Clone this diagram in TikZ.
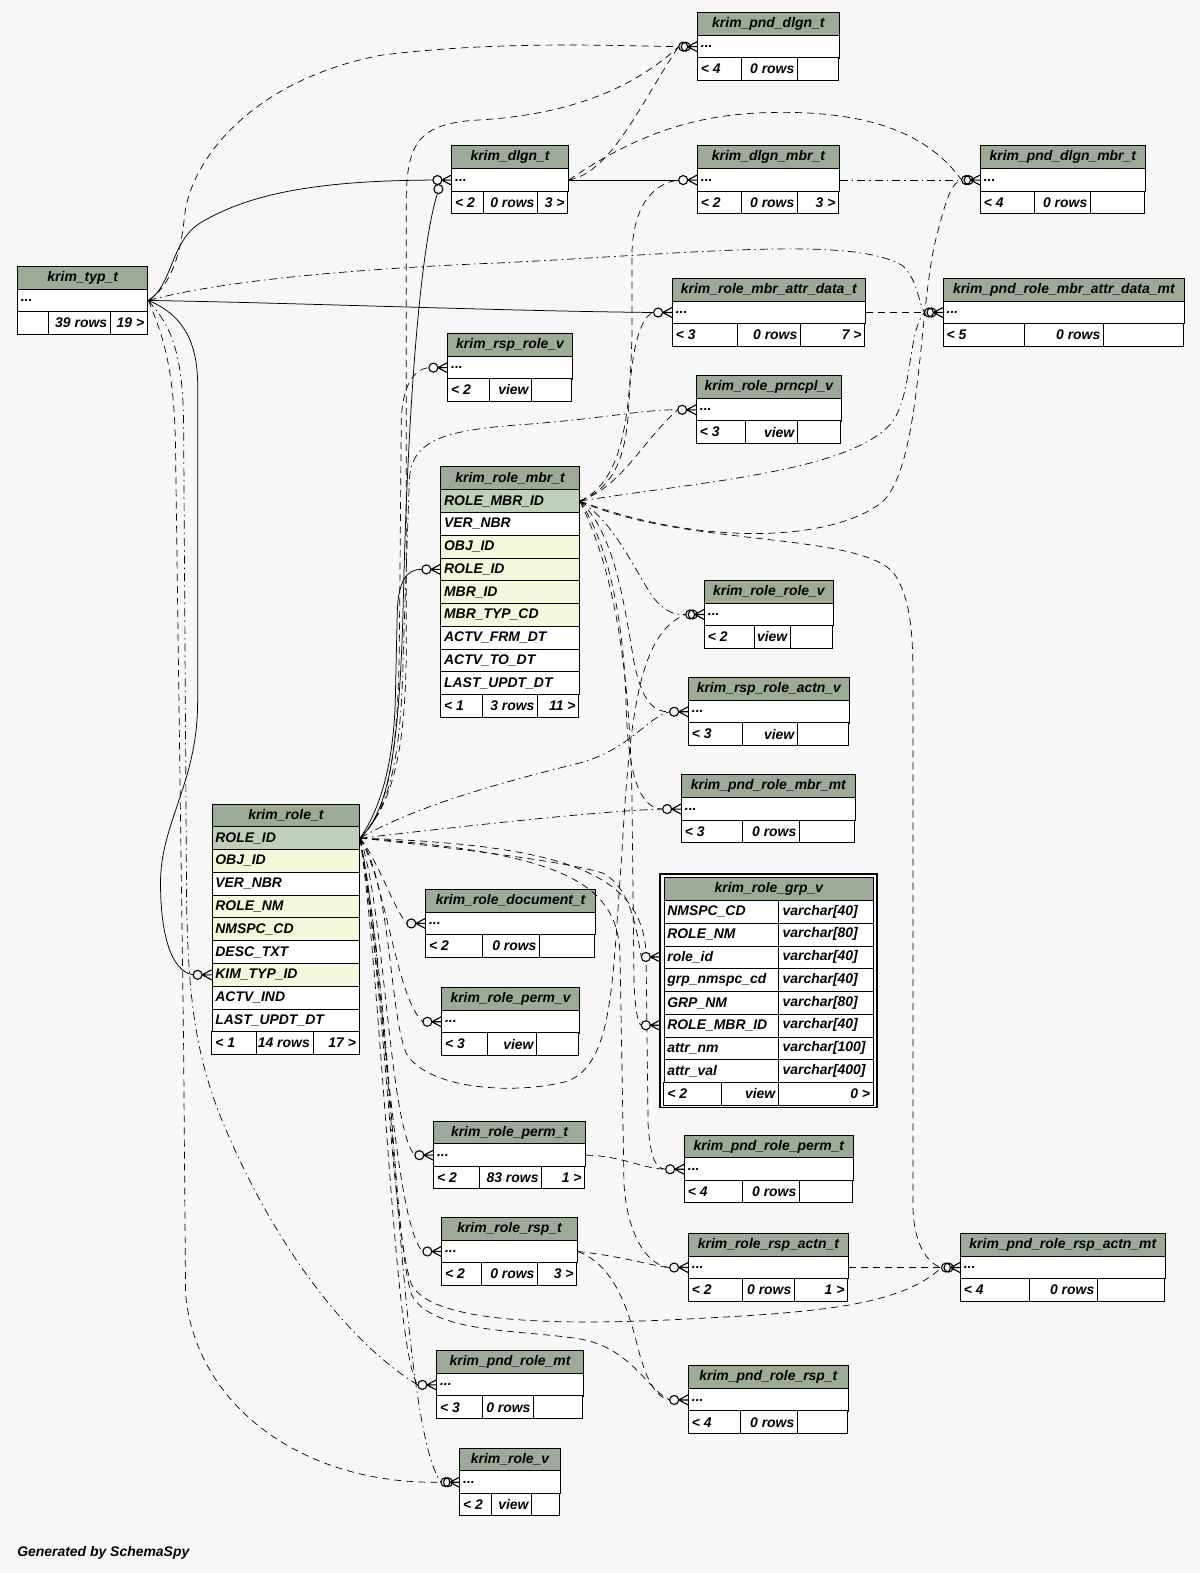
\documentclass[tikz,border=0pt]{standalone}
\usepackage{fontspec}
\setmainfont{Liberation Sans}
\definecolor{bg}{HTML}{F7F7F7}
\definecolor{hdr}{HTML}{9BAB96}
\definecolor{pk}{HTML}{BED1B8}
\definecolor{fkc}{HTML}{F4F7DA}
\newcommand\tfont{\fontsize{13.9}{16}\selectfont\bfseries\itshape}
\newcommand\RH{22.7}
\newcommand\tabhead[5]{%
  \node[hdrbox, minimum width={(#3-#2)*1pt}] (#1-h) at (#2,#4) {#5};
  \node[rowbox, minimum width={(#3-#2)*1pt}] (#1) at (#2,{#4+\RH}) {};
  \node[txt] at ([xshift=3.5pt]#1.west) {...};}
\newcommand\tabfoot[8]{%
  \draw[line width=0.9pt, fill=white] (#1,#5) rectangle (#4,{#5+\RH});
  \draw[line width=0.9pt] (#2,#5) -- (#2,{#5+\RH}) (#3,#5) -- (#3,{#5+\RH});
  \node[txt, anchor=west] at ({#1+3.5},{#5+\RH/2}) {#6};
  \node[txt, anchor=east] at ({#3-3},{#5+\RH/2}) {#7};
  \node[txt, anchor=east] at ({#4-3},{#5+\RH/2}) {#8};}
\newcommand\tabrow[6]{%
  \node[rowbox, fill=#6, minimum width={(#3-#2)*1pt}] (#1) at (#2,#4) {};
  \node[txt] at ([xshift=3.5pt]#1.west) {#5};}
\newcommand\grprow[4]{%
  \node[rowbox, minimum width=209pt] (#1) at (661.5,#2) {};
  \draw[line width=0.9pt] (776,#2) -- (776,{#2+\RH});
  \node[txt] at ([xshift=3.5pt]#1.west) {#3};
  \node[txt] at (780,{#2+\RH/2}) {#4};}
\newcommand\crowmark[1]{%
  \draw[mk] ([xshift=-9.5pt]#1.west) -- ([yshift=5pt]#1.west)
            ([xshift=-9.5pt]#1.west) -- (#1.west)
            ([xshift=-9.5pt]#1.west) -- ([yshift=-5pt]#1.west);
  \draw[mk, fill=bg] ([xshift=-14pt]#1.west) circle[radius=4.5pt];}
\newcommand\crowmarkd[1]{%
  \crowmark{#1}
  \draw[mk] ([xshift=-11.5pt]#1.west) circle[radius=4.5pt];}
\begin{document}
\begin{tikzpicture}[x=1pt,y=-1pt,
  tb/.style={draw=black, line width=0.9pt, inner sep=0pt, minimum height=22.7pt, anchor=north west},
  hdrbox/.style={tb, fill=hdr, font=\tfont},
  rowbox/.style={tb, fill=white},
  txt/.style={inner sep=0pt, font=\tfont, anchor=west},
  rel/.style={line width=0.75pt},
  imp/.style={line width=0.7pt, dash pattern=on 7pt off 5pt},
  impd/.style={line width=0.7pt, dash pattern=on 8pt off 4pt on 1.5pt off 4pt},
  mk/.style={line width=1.1pt}]
\fill[bg] (0,0) rectangle (1196,1568);
\useasboundingbox (0,0) rectangle (1196,1568);

% ---------- simple tables ----------
\tabhead{pnddlgn}{695}{836}{12}{krim\_pnd\_dlgn\_t}
\tabfoot{695}{739}{795}{836}{57.4}{< 4}{0 rows}{}
\tabhead{dlgn}{450}{566}{145}{krim\_dlgn\_t}
\tabfoot{450}{482}{536}{566}{190.4}{< 2}{0 rows}{3 >}
\tabhead{dlgnmbr}{695}{836}{145}{krim\_dlgn\_mbr\_t}
\tabfoot{695}{739}{795}{836}{190.4}{< 2}{0 rows}{3 >}
\tabhead{pnddlgnmbr}{977}{1141}{145}{krim\_pnd\_dlgn\_mbr\_t}
\tabfoot{977}{1031}{1087}{1141}{190.4}{< 4}{0 rows}{}
\tabhead{typ}{17}{147}{265}{krim\_typ\_t}
\tabfoot{17}{48}{110}{147}{310.4}{}{39 rows}{19 >}
\tabhead{rmad}{670}{862}{277}{krim\_role\_mbr\_attr\_data\_t}
\tabfoot{670}{735}{798}{862}{322.4}{< 3}{0 rows}{7 >}
\tabhead{prmad}{940}{1180}{277}{krim\_pnd\_role\_mbr\_attr\_data\_mt}
\tabfoot{940}{1021}{1100}{1180}{322.4}{< 5}{0 rows}{}
\tabhead{rsprolev}{446}{570}{332}{krim\_rsp\_role\_v}
\tabfoot{446}{488}{530}{570}{377.4}{< 2}{view}{}
\tabhead{prncpl}{694}{838}{374}{krim\_role\_prncpl\_v}
\tabfoot{694}{743}{795}{838}{419.4}{< 3}{view}{}
\tabhead{rolerole}{702}{830}{578}{krim\_role\_role\_v}
\tabfoot{702}{752}{788}{830}{623.4}{< 2}{view}{}
\tabhead{rspactnv}{686}{846}{675}{krim\_rsp\_role\_actn\_v}
\tabfoot{686}{740}{795}{846}{720.4}{< 3}{view}{}
\tabhead{pndrmbr}{679}{852}{772}{krim\_pnd\_role\_mbr\_mt}
\tabfoot{679}{740}{797}{852}{817.4}{< 3}{0 rows}{}
\tabhead{doc}{424}{593}{886}{krim\_role\_document\_t}
\tabfoot{424}{481}{538}{593}{931.4}{< 2}{0 rows}{}
\tabhead{permv}{440}{577}{984}{krim\_role\_perm\_v}
\tabfoot{440}{486}{535}{577}{1029.4}{< 3}{view}{}
\tabhead{perm}{432}{583}{1117}{krim\_role\_perm\_t}
\tabfoot{432}{478}{540}{583}{1162.4}{< 2}{83 rows}{1 >}
\tabhead{pndperm}{682}{850}{1131}{krim\_pnd\_role\_perm\_t}
\tabfoot{682}{740}{797}{850}{1176.4}{< 4}{0 rows}{}
\tabhead{rsp}{440}{575}{1213}{krim\_role\_rsp\_t}
\tabfoot{440}{480}{536}{575}{1258.4}{< 2}{0 rows}{3 >}
\tabhead{rspactn}{686}{845}{1229}{krim\_role\_rsp\_actn\_t}
\tabfoot{686}{740}{792}{845}{1274.4}{< 2}{0 rows}{1 >}
\tabhead{pndrspactn}{957}{1161}{1229}{krim\_pnd\_role\_rsp\_actn\_mt}
\tabfoot{957}{1026}{1094}{1161}{1274.4}{< 4}{0 rows}{}
\tabhead{pndrole}{435}{581}{1346}{krim\_pnd\_role\_mt}
\tabfoot{435}{481}{532}{581}{1391.4}{< 3}{0 rows}{}
\tabhead{pndrsp}{686}{845}{1361}{krim\_pnd\_role\_rsp\_t}
\tabfoot{686}{738}{795}{845}{1406.4}{< 4}{0 rows}{}
\tabhead{rolev}{458}{558}{1443}{krim\_role\_v}
\tabfoot{458}{490}{530}{558}{1488.4}{< 2}{view}{}

% ---------- krim_role_mbr_t ----------
\node[hdrbox, minimum width=138pt] (rm-h) at (439,465) {krim\_role\_mbr\_t};
\tabrow{rmpk}{439}{577}{487.7}{ROLE\_MBR\_ID}{pk}
\tabrow{rm2}{439}{577}{510.4}{VER\_NBR}{white}
\tabrow{rm3}{439}{577}{533.1}{OBJ\_ID}{fkc}
\tabrow{rmroleid}{439}{577}{555.8}{ROLE\_ID}{fkc}
\tabrow{rm5}{439}{577}{578.5}{MBR\_ID}{fkc}
\tabrow{rm6}{439}{577}{601.2}{MBR\_TYP\_CD}{fkc}
\tabrow{rm7}{439}{577}{623.9}{ACTV\_FRM\_DT}{white}
\tabrow{rm8}{439}{577}{646.6}{ACTV\_TO\_DT}{white}
\tabrow{rm9}{439}{577}{669.3}{LAST\_UPDT\_DT}{white}
\tabfoot{439}{481}{536}{577}{692}{< 1}{3 rows}{11 >}

% ---------- krim_role_t ----------
\node[hdrbox, minimum width=147pt] (role-h) at (211,801) {krim\_role\_t};
\tabrow{rolepk}{211}{358}{823.7}{ROLE\_ID}{pk}
\tabrow{ro2}{211}{358}{846.4}{OBJ\_ID}{fkc}
\tabrow{ro3}{211}{358}{869.1}{VER\_NBR}{white}
\tabrow{ro4}{211}{358}{891.8}{ROLE\_NM}{fkc}
\tabrow{ro5}{211}{358}{914.5}{NMSPC\_CD}{fkc}
\tabrow{ro6}{211}{358}{937.2}{DESC\_TXT}{white}
\tabrow{rolekim}{211}{358}{959.9}{KIM\_TYP\_ID}{fkc}
\tabrow{ro8}{211}{358}{982.6}{ACTV\_IND}{white}
\tabrow{ro9}{211}{358}{1005.3}{LAST\_UPDT\_DT}{white}
\tabfoot{211}{256}{312}{358}{1028}{< 1}{14 rows}{17 >}

% ---------- krim_role_grp_v ----------
\draw[line width=1.6pt] (658,871) rectangle (874,1104);
\node[hdrbox, minimum width=209pt] (grp-h) at (661.5,874.5) {krim\_role\_grp\_v};
\grprow{g1}{897.2}{NMSPC\_CD}{varchar[40]}
\grprow{g2}{919.9}{ROLE\_NM}{varchar[80]}
\grprow{grp1}{942.6}{role\_id}{varchar[40]}
\grprow{g4}{965.3}{grp\_nmspc\_cd}{varchar[40]}
\grprow{g5}{988}{GRP\_NM}{varchar[80]}
\grprow{grp2}{1010.7}{ROLE\_MBR\_ID}{varchar[40]}
\grprow{g7}{1033.4}{attr\_nm}{varchar[100]}
\grprow{g8}{1056.1}{attr\_val}{varchar[400]}
\tabfoot{661.5}{719}{776}{870.5}{1078.8}{< 2}{view}{0 >}
\node[inner sep=0pt, minimum size=0pt] (grp1o) at (658,953.9) {};
\node[inner sep=0pt, minimum size=0pt] (grp2o) at (658,1022) {};

\node[txt] (gen) at (17,1548) {Generated by SchemaSpy};

% ---------- connector end points ----------
\foreach \n in {pnddlgn,dlgn,dlgnmbr,pnddlgnmbr,rmad,prmad,rsprolev,prncpl,rmroleid,rolerole,rspactnv,pndrmbr,rolekim,doc,permv,perm,pndperm,rsp,rspactn,pndrspactn,pndrole,pndrsp,rolev,grp1o,grp2o}
  \coordinate (\n-c) at ([xshift=-18.5pt]\n.west);
\coordinate (dlgn-c2) at ([xshift=-14pt,yshift=-13.5pt]dlgn.west);

% ---------- connectors ----------
% from krim_typ_t
\draw[rel] (typ.east) .. controls (172,285) and (170,240) .. (200,222) .. controls (250,192) and (320,180) .. (dlgn-c);
\draw[imp] (typ.east) .. controls (170,285) and (180,255) .. (184,215) .. controls (190,160) and (250,80) .. (380,55) .. controls (500,40) and (620,46) .. (pnddlgn-c);
\draw[rel] (typ.east) .. controls (300,302) and (500,310) .. (rmad-c);
\draw[impd] (typ.east) .. controls (220,280) and (350,268) .. (500,262) .. controls (700,252) and (850,235) .. (900,265) .. controls (915,280) and (915,300) .. (prmad-c);
\draw[rel] (typ.east) .. controls (178,312) and (196,335) .. (197,380) -- (197,700) .. controls (197,780) and (160,820) .. (160,880) .. controls (160,930) and (170,968) .. (rolekim-c);
\draw[impd] (typ.east) .. controls (165,320) and (182,340) .. (183,420) -- (186,900) .. controls (188,1000) and (195,1060) .. (230,1137) .. controls (280,1250) and (350,1340) .. (pndrole-c);
\draw[imp] (typ.east) .. controls (160,330) and (174,360) .. (175,450) -- (183,1040) -- (185,1290) .. controls (195,1400) and (300,1480) .. (rolev-c);
% from krim_dlgn_t / krim_dlgn_mbr_t / krim_role_mbr_attr_data_t
\draw[rel] (dlgn.east) -- (dlgnmbr-c);
\draw[imp] (dlgn.east) .. controls (610,172) and (640,100) .. (pnddlgn-c);
\draw[imp] (dlgn.east) .. controls (640,130) and (700,112) .. (780,112) .. controls (880,112) and (930,140) .. (pnddlgnmbr-c);
\draw[impd] (dlgnmbr.east) -- (pnddlgnmbr-c);
\draw[imp] (rmad.east) -- (prmad-c);
% from krim_role_mbr_t
\draw[imp] (rmpk.east) .. controls (700,545) and (830,540) .. (880,500) .. controls (920,460) and (915,300) .. (935,230) .. controls (943,200) and (948,182) .. (pnddlgnmbr-c);
\draw[imp] (rmpk.east) .. controls (620,480) and (628,420) .. (630,330) -- (630,250) .. controls (632,200) and (655,182) .. (dlgnmbr-c);
\draw[imp] (rmpk.east) .. controls (615,485) and (625,450) .. (627,400) .. controls (630,340) and (640,315) .. (rmad-c);
\draw[impd] (rmpk.east) .. controls (700,480) and (850,470) .. (890,420) .. controls (910,390) and (905,330) .. (prmad-c);
\draw[imp] (rmpk.east) .. controls (620,485) and (640,440) .. (prncpl-c);
\draw[impd] (rmpk.east) .. controls (615,520) and (640,585) .. (655,600) .. controls (665,610) and (672,613) .. (rolerole-c);
\draw[imp] (rmpk.east) .. controls (612,530) and (622,600) .. (632,660) .. controls (640,700) and (652,710) .. (rspactnv-c);
\draw[imp] (rmpk.east) .. controls (606,540) and (622,620) .. (624,700) .. controls (626,780) and (640,806) .. (pndrmbr-c);
\draw[imp] (rmpk.east) .. controls (608,560) and (628,650) .. (630,800) -- (632,980) .. controls (633,1005) and (636,1022) .. (grp2o-c);
\draw[imp] (rmpk.east) .. controls (680,545) and (850,530) .. (890,570) .. controls (912,600) and (910,650) .. (910,700) -- (910,1200) .. controls (910,1240) and (925,1260) .. (pndrspactn-c);
% from krim_role_t
\draw[rel] (rolepk.east) .. controls (385,810) and (398,760) .. (402,600) .. controls (406,420) and (418,250) .. (dlgn-c2);
\draw[imp] (rolepk.east) .. controls (388,805) and (404,760) .. (405,650) -- (405,200) .. controls (405,140) and (420,125) .. (470,120) .. controls (580,115) and (640,80) .. (pnddlgn-c);
\draw[imp] (rolepk.east) .. controls (383,812) and (396,770) .. (398,650) -- (400,420) .. controls (401,385) and (412,368) .. (rsprolev-c);
\draw[impd] (rolepk.east) .. controls (386,808) and (400,765) .. (402,650) -- (408,480) .. controls (409,440) and (440,430) .. (510,424) .. controls (600,418) and (640,408) .. (prncpl-c);
\draw[rel] (rolepk.east) .. controls (380,805) and (392,760) .. (394,700) -- (396,610) .. controls (397,580) and (405,567) .. (rmroleid-c);
\draw[imp] (rolepk.east) .. controls (390,880) and (388,1010) .. (405,1050) .. controls (425,1085) and (510,1092) .. (565,1078) .. controls (612,1060) and (610,980) .. (620,850) .. controls (628,700) and (640,630) .. (rolerole-c);
\draw[impd] (rolepk.east) .. controls (420,800) and (520,775) .. (580,760) .. controls (630,745) and (645,715) .. (rspactnv-c);
\draw[impd] (rolepk.east) .. controls (450,825) and (600,808) .. (pndrmbr-c);
\draw[imp] (rolepk.east) .. controls (450,845) and (560,858) .. (600,870) .. controls (632,885) and (636,940) .. (grp1o-c);
\draw[imp] (rolepk.east) .. controls (560,850) and (615,880) .. (618,950) -- (622,1180) .. controls (625,1230) and (645,1262) .. (rspactn-c);
\draw[imp] (rolepk.east) .. controls (560,842) and (640,870) .. (644,950) -- (646,1120) .. controls (648,1150) and (652,1165) .. (pndperm-c);
\draw[imp] (rolepk.east) .. controls (378,860) and (392,905) .. (doc-c);
\draw[imp] (rolepk.east) .. controls (385,880) and (395,995) .. (permv-c);
\draw[imp] (rolepk.east) .. controls (383,900) and (388,1125) .. (perm-c);
\draw[imp] (rolepk.east) .. controls (380,950) and (392,1220) .. (rsp-c);
\draw[imp] (rolepk.east) .. controls (382,1000) and (393,1350) .. (pndrole-c);
\draw[impd] (rolepk.east) .. controls (392,1000) and (398,1420) .. (rolev-c);
\draw[imp] (rolepk.east) .. controls (385,1000) and (390,1220) .. (410,1280) .. controls (430,1320) and (560,1322) .. (700,1314) .. controls (820,1308) and (900,1300) .. (pndrspactn-c);
\draw[imp] (rolepk.east) .. controls (390,1000) and (392,1230) .. (410,1290) .. controls (430,1330) and (520,1325) .. (580,1335) .. controls (630,1345) and (645,1385) .. (pndrsp-c);
% from krim_role_perm_t, krim_role_rsp_t, krim_role_rsp_actn_t
\draw[imp] (perm.east) .. controls (620,1152) and (640,1165) .. (pndperm-c);
\draw[imp] (rsp.east) .. controls (620,1252) and (650,1262) .. (rspactn-c);
\draw[imp] (rsp.east) .. controls (610,1260) and (625,1300) .. (635,1340) .. controls (645,1380) and (655,1393) .. (pndrsp-c);
\draw[imp] (rspactn.east) -- (pndrspactn-c);

% ---------- end markers ----------
\crowmarkd{pnddlgn}
\crowmark{dlgn}
\draw[mk, fill=bg] ([xshift=-13pt,yshift=-9pt]dlgn.west) circle[radius=4.5pt];
\crowmark{dlgnmbr}
\crowmarkd{pnddlgnmbr}
\crowmark{rmad}
\crowmarkd{prmad}
\crowmark{rsprolev}
\crowmark{prncpl}
\crowmark{rmroleid}
\crowmarkd{rolerole}
\crowmark{rspactnv}
\crowmark{pndrmbr}
\crowmark{rolekim}
\crowmark{doc}
\crowmark{permv}
\crowmark{perm}
\crowmark{pndperm}
\crowmark{rsp}
\crowmark{rspactn}
\crowmarkd{pndrspactn}
\crowmark{pndrole}
\crowmark{pndrsp}
\crowmarkd{rolev}
\crowmark{grp1o}
\crowmark{grp2o}
\end{tikzpicture}
\end{document}
